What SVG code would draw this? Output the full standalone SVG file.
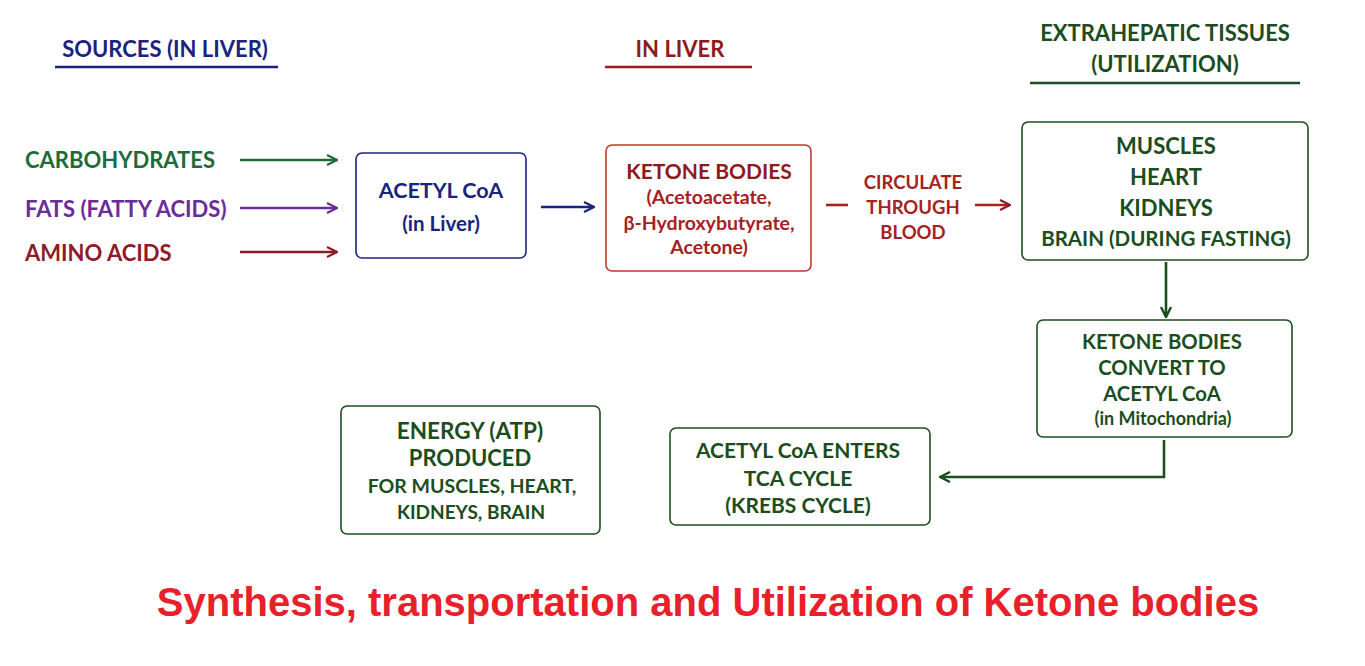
<svg xmlns="http://www.w3.org/2000/svg" width="1365" height="666" viewBox="0 0 1365 666">
<defs>
<style>
text{font-family:Lato,"Open Sans","Liberation Sans",sans-serif;font-weight:bold;text-anchor:middle;dominant-baseline:central}
.nv{fill:#1a237e}.rd{fill:#8e1b1b}.gr{fill:#1b4d1e}.lr{fill:#a52222}
.box{fill:#fff;stroke-width:1.6}
</style>
<marker id="aN" viewBox="0 0 12 12" refX="11" refY="6" markerWidth="12" markerHeight="12" markerUnits="userSpaceOnUse" orient="auto"><path d="M1,1 L11,6 L1,11" fill="none" stroke="#1a237e" stroke-width="2.2"/></marker>
<marker id="aG" viewBox="0 0 12 12" refX="11" refY="6" markerWidth="12" markerHeight="12" markerUnits="userSpaceOnUse" orient="auto"><path d="M1,1 L11,6 L1,11" fill="none" stroke="#1e6b3a" stroke-width="2.2"/></marker>
<marker id="aP" viewBox="0 0 12 12" refX="11" refY="6" markerWidth="12" markerHeight="12" markerUnits="userSpaceOnUse" orient="auto"><path d="M1,1 L11,6 L1,11" fill="none" stroke="#6a2c9a" stroke-width="2.2"/></marker>
<marker id="aR" viewBox="0 0 12 12" refX="11" refY="6" markerWidth="12" markerHeight="12" markerUnits="userSpaceOnUse" orient="auto"><path d="M1,1 L11,6 L1,11" fill="none" stroke="#8e1b2a" stroke-width="2.2"/></marker>
<marker id="aD" viewBox="0 0 12 12" refX="11" refY="6" markerWidth="12" markerHeight="12" markerUnits="userSpaceOnUse" orient="auto"><path d="M1,1 L11,6 L1,11" fill="none" stroke="#1b4d1e" stroke-width="2.4"/></marker>
</defs>
<rect width="1365" height="666" fill="#fff"/>

<g id="headers">
<text x="165" y="48" class="nv" font-size="22">SOURCES (IN LIVER)</text>
<line x1="55" y1="67" x2="278" y2="67" stroke="#1a237e" stroke-width="2.5"/>
<text x="680" y="48" class="rd" font-size="22">IN LIVER</text>
<line x1="605" y1="67" x2="752" y2="67" stroke="#9b1b1b" stroke-width="2.5"/>
<text x="1165" y="32" class="gr" font-size="22">EXTRAHEPATIC TISSUES</text>
<text x="1165" y="63" class="gr" font-size="22">(UTILIZATION)</text>
<line x1="1030" y1="83" x2="1300" y2="83" stroke="#1b4d1e" stroke-width="2.5"/>
</g>

<g id="sources">
<text x="25" y="159" font-size="22" style="text-anchor:start;fill:#1e6b3a">CARBOHYDRATES</text>
<text x="25" y="208" font-size="22" style="text-anchor:start;fill:#6a2c9a">FATS (FATTY ACIDS)</text>
<text x="25" y="252" font-size="22" style="text-anchor:start;fill:#8e1b2a">AMINO ACIDS</text>
</g>

<g id="acetyl-liver">
<rect x="356" y="153" width="170" height="105" rx="6" class="box" stroke="#1a237e"/>
<text x="441" y="190" class="nv" font-size="21.5">ACETYL CoA</text>
<text x="441" y="223" class="nv" font-size="20.5">(in Liver)</text>
</g>

<g id="ketone-bodies">
<rect x="606" y="145" width="205" height="126" rx="6" class="box" stroke="#c0392b"/>
<text x="709" y="170" class="rd" font-size="21">KETONE BODIES</text>
<text x="709" y="196" class="lr" font-size="19.5">(Acetoacetate,</text>
<text x="709" y="222" class="lr" font-size="19.5">β-Hydroxybutyrate,</text>
<text x="709" y="246" class="lr" font-size="19.5">Acetone)</text>
</g>

<g id="circulate">
<text x="913" y="182" class="lr" font-size="18.5">CIRCULATE</text>
<text x="913" y="207" class="lr" font-size="18.5">THROUGH</text>
<text x="913" y="232" class="lr" font-size="18.5">BLOOD</text>
</g>

<g id="tissues">
<rect x="1022" y="122" width="286" height="138" rx="6" class="box" stroke="#1b4d1e"/>
<text x="1166" y="145" class="gr" font-size="22">MUSCLES</text>
<text x="1166" y="176" class="gr" font-size="22">HEART</text>
<text x="1166" y="207" class="gr" font-size="22">KIDNEYS</text>
<text x="1166" y="238" class="gr" font-size="20.5">BRAIN (DURING FASTING)</text>
</g>

<g id="convert">
<rect x="1037" y="320" width="255" height="117" rx="6" class="box" stroke="#1b4d1e"/>
<text x="1162" y="341" class="gr" font-size="20.3">KETONE BODIES</text>
<text x="1162" y="367" class="gr" font-size="20.3">CONVERT TO</text>
<text x="1162" y="393" class="gr" font-size="20.3">ACETYL CoA</text>
<text x="1163" y="418" class="gr" font-size="18">(in Mitochondria)</text>
</g>

<g id="tca">
<rect x="670" y="428" width="260" height="97" rx="6" class="box" stroke="#1b4d1e"/>
<text x="798" y="449" class="gr" font-size="21">ACETYL CoA ENTERS</text>
<text x="798" y="477" class="gr" font-size="21">TCA CYCLE</text>
<text x="798" y="504" class="gr" font-size="21">(KREBS CYCLE)</text>
</g>

<g id="energy">
<rect x="341" y="406" width="259" height="128" rx="6" class="box" stroke="#1b4d1e"/>
<text x="470" y="430" class="gr" font-size="22.5">ENERGY (ATP)</text>
<text x="470" y="457" class="gr" font-size="22">PRODUCED</text>
<text x="472" y="485" class="gr" font-size="19.5">FOR MUSCLES, HEART,</text>
<text x="471" y="511" class="gr" font-size="19">KIDNEYS, BRAIN</text>
</g>

<g id="connectors" fill="none">
<line x1="240" y1="160" x2="337" y2="160" stroke="#1e6b3a" stroke-width="2.4" marker-end="url(#aG)"/>
<line x1="240" y1="208" x2="337" y2="208" stroke="#6a2c9a" stroke-width="2.4" marker-end="url(#aP)"/>
<line x1="240" y1="252" x2="337" y2="252" stroke="#8e1b2a" stroke-width="2.4" marker-end="url(#aR)"/>
<line x1="541" y1="207" x2="594" y2="207" stroke="#1a237e" stroke-width="2.6" marker-end="url(#aN)"/>
<line x1="826" y1="205" x2="848" y2="205" stroke="#a52222" stroke-width="2.6"/>
<line x1="975" y1="205" x2="1010" y2="205" stroke="#a52222" stroke-width="2.4" marker-end="url(#aR)"/>
<line x1="1166" y1="262" x2="1166" y2="317" stroke="#1b4d1e" stroke-width="2.6" marker-end="url(#aD)"/>
<polyline points="1164,440 1164,477 940,477" stroke="#1b4d1e" stroke-width="2.6" marker-end="url(#aD)"/>
</g>

<text x="708" y="602" style="font-family:'Liberation Sans',Arial,sans-serif;font-size:40px;fill:#e8202a">Synthesis, transportation and Utilization of Ketone bodies</text>
</svg>
